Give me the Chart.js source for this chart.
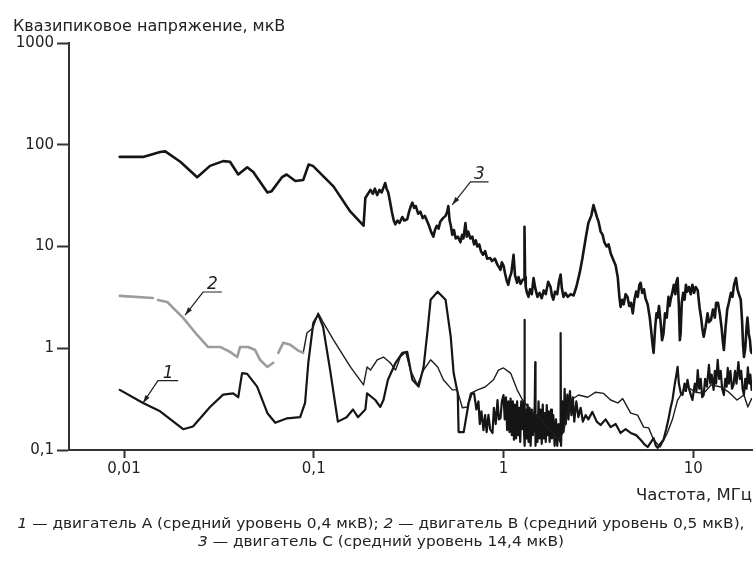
<!DOCTYPE html>
<html>
<head>
<meta charset="utf-8">
<script src="https://cdn.jsdelivr.net/npm/chart.js@4/dist/chart.umd.min.js"></script>
<style>
  html, body { margin: 0; padding: 0; background: #fff; }
  canvas { display: block; }
</style>
</head>
<body>
<canvas id="c" width="754" height="561"></canvas>
<script>
// [frequency, MHz ; quasi-peak voltage, µV]
// Engine A
const seriesA = [
  [0.0095, 0.39], [0.0126, 0.29], [0.0155, 0.24], [0.0205, 0.16], [0.0231, 0.17], [0.0284, 0.265], [0.0333, 0.35],
  [0.0376, 0.36], [0.040, 0.33], [0.0419, 0.57], [0.0446, 0.56], [0.0503, 0.42], [0.057, 0.23], [0.0627, 0.185],
  [0.0724, 0.205], [0.0848, 0.21], [0.090, 0.29], [0.0936, 0.72], [0.0994, 1.77], [0.1055, 2.15], [0.112, 1.62],
  [0.122, 0.61], [0.134, 0.19], [0.149, 0.21], [0.161, 0.25], [0.171, 0.21], [0.187, 0.25], [0.191, 0.36],
  [0.211, 0.31], [0.224, 0.265], [0.233, 0.31], [0.246, 0.49], [0.27, 0.72], [0.293, 0.9], [0.311, 0.92],
  [0.331, 0.49], [0.357, 0.42], [0.379, 0.65], [0.398, 1.5], [0.413, 3.0], [0.45, 3.6], [0.495, 3.0],
  [0.527, 1.3], [0.546, 0.57], [0.574, 0.36], [0.58, 0.15], [0.617, 0.15], [0.655, 0.29], [0.68, 0.36],
  [0.70, 0.36], [0.72, 0.25], [0.738, 0.3], [0.75, 0.18], [0.765, 0.24], [0.784, 0.157], [0.80, 0.22],
  [0.815, 0.15], [0.833, 0.221], [0.85, 0.16], [0.875, 0.147], [0.89, 0.26], [0.91, 0.18], [0.93, 0.31],
  [0.945, 0.2], [0.964, 0.205], [0.98, 0.3], [1.0, 0.347], [1.015, 0.2], [1.03, 0.33], [1.045, 0.157],
  [1.06, 0.3], [1.075, 0.15], [1.09, 0.32], [1.105, 0.14], [1.12, 0.3], [1.135, 0.126], [1.15, 0.28],
  [1.165, 0.13], [1.18, 0.3], [1.195, 0.14], [1.21, 0.26], [1.225, 0.12], [1.24, 0.3], [1.26, 0.16],
  [1.275, 0.3], [1.285, 0.14], [1.29, 1.9], [1.295, 0.11], [1.31, 0.25], [1.325, 0.13], [1.34, 0.28],
  [1.355, 0.12], [1.37, 0.26], [1.39, 0.11], [1.41, 0.25], [1.43, 0.14], [1.46, 0.27], [1.47, 0.73],
  [1.475, 0.11], [1.49, 0.22], [1.51, 0.12], [1.53, 0.3], [1.55, 0.13], [1.57, 0.25], [1.59, 0.115],
  [1.61, 0.28], [1.63, 0.13], [1.65, 0.23], [1.67, 0.12], [1.69, 0.276], [1.71, 0.14], [1.73, 0.24],
  [1.75, 0.12], [1.78, 0.25], [1.8, 0.13], [1.83, 0.22], [1.86, 0.11], [1.89, 0.2], [1.92, 0.11],
  [1.95, 0.18], [1.99, 0.12], [2.0, 1.41], [2.01, 0.11], [2.04, 0.3], [2.07, 0.15], [2.1, 0.4],
  [2.13, 0.18], [2.17, 0.35], [2.2, 0.2], [2.24, 0.38], [2.28, 0.22], [2.32, 0.33], [2.36, 0.19],
  [2.42, 0.3], [2.48, 0.21], [2.55, 0.26], [2.62, 0.19], [2.71, 0.22], [2.8, 0.2], [2.94, 0.237],
  [3.1, 0.19], [3.25, 0.176], [3.45, 0.2], [3.67, 0.168], [3.9, 0.18], [4.14, 0.147], [4.4, 0.16],
  [4.68, 0.147], [5.0, 0.14], [5.28, 0.126], [5.5, 0.115], [5.75, 0.107], [6.0, 0.12], [6.18, 0.131],
  [6.35, 0.11], [6.49, 0.105], [6.7, 0.115], [6.97, 0.126], [7.2, 0.16], [7.4, 0.2], [7.6, 0.26],
  [7.77, 0.31], [8.0, 0.45], [8.15, 0.55], [8.27, 0.655], [8.4, 0.45], [8.6, 0.36], [8.78, 0.347],
  [9.0, 0.45], [9.15, 0.38], [9.32, 0.49], [9.5, 0.4], [9.7, 0.35], [9.9, 0.31], [10.2, 0.45],
  [10.4, 0.38], [10.56, 0.61], [10.75, 0.4], [10.95, 0.5], [11.15, 0.33], [11.35, 0.347], [11.55, 0.5],
  [11.8, 0.42], [12.1, 0.686], [12.3, 0.45], [12.5, 0.55], [12.8, 0.39], [13.0, 0.6], [13.2, 0.45],
  [13.45, 0.77], [13.7, 0.5], [13.95, 0.6], [14.2, 0.4], [14.5, 0.347], [14.75, 0.5], [15.0, 0.42],
  [15.2, 0.64], [15.4, 0.45], [15.7, 0.6], [16.0, 0.4], [16.3, 0.436], [16.6, 0.6], [16.9, 0.45],
  [17.3, 0.73], [17.6, 0.5], [17.9, 0.6], [18.2, 0.4], [18.5, 0.347], [18.8, 0.5], [19.1, 0.4],
  [19.4, 0.65], [19.7, 0.45], [20.0, 0.55], [20.3, 0.39]
];

// Engine B: low-frequency part (grey, with breaks) and its continuation
const seriesB1 = [
  [0.0095, 3.27], [0.0142, 3.12], [0.0147, null], [0.0151, 2.98], [0.0169, 2.85], [0.0205, 1.99], [0.0243, 1.35],
  [0.0277, 1.03], [0.0321, 1.03], [0.0362, 0.92], [0.0395, 0.82], [0.0409, 1.03], [0.0451, 1.03], [0.0491, 0.96],
  [0.0521, 0.77], [0.0569, 0.655], [0.0612, 0.72], [0.0631, null], [0.065, 0.9], [0.069, 1.13], [0.0753, 1.08],
  [0.082, 0.96], [0.088, 0.9]
];
const seriesB2 = [
  [0.088, 0.9], [0.092, 1.41], [0.099, 1.58], [0.1055, 2.22], [0.112, 1.81], [0.127, 1.21], [0.156, 0.655],
  [0.183, 0.436], [0.191, 0.655], [0.199, 0.61], [0.216, 0.77], [0.233, 0.82], [0.253, 0.72], [0.27, 0.61],
  [0.286, 0.82], [0.305, 0.92], [0.323, 0.61], [0.352, 0.436], [0.379, 0.61], [0.413, 0.77], [0.45, 0.655],
  [0.482, 0.49], [0.537, 0.39], [0.57, 0.39], [0.607, 0.26], [0.645, 0.265], [0.67, 0.36], [0.73, 0.39],
  [0.80, 0.416], [0.886, 0.49], [0.94, 0.61], [1.0, 0.64], [1.09, 0.57], [1.18, 0.39], [1.26, 0.31],
  [1.39, 0.247], [1.57, 0.2], [1.77, 0.157], [1.95, 0.126], [2.07, 0.15], [2.26, 0.31], [2.49, 0.347],
  [2.78, 0.33], [3.06, 0.37], [3.37, 0.36], [3.67, 0.31], [4.0, 0.29], [4.25, 0.32], [4.68, 0.23],
  [5.09, 0.22], [5.48, 0.168], [5.82, 0.165], [6.18, 0.126], [6.7, 0.107], [7.3, 0.147], [7.77, 0.2],
  [8.27, 0.31], [8.78, 0.37], [9.32, 0.416], [10.3, 0.37], [11.35, 0.36], [12.4, 0.436], [14.0, 0.416],
  [15.4, 0.37], [17.0, 0.31], [18.5, 0.347], [19.4, 0.265], [20.3, 0.32]
];

// Engine C
const seriesC = [
  [0.0095, 76], [0.0126, 76], [0.0155, 85], [0.0165, 86], [0.0198, 68], [0.0243, 48], [0.0284, 62], [0.0333, 69],
  [0.0362, 68], [0.040, 51], [0.0446, 60], [0.048, 54], [0.057, 34], [0.060, 35], [0.068, 48], [0.072, 51],
  [0.080, 44], [0.088, 45], [0.094, 64], [0.099, 62], [0.127, 39], [0.156, 22], [0.183, 16], [0.187, 30],
  [0.199, 36], [0.205, 33], [0.21, 37], [0.216, 32], [0.222, 36], [0.228, 34], [0.238, 42], [0.242, 37],
  [0.247, 34], [0.252, 28], [0.258, 22], [0.264, 18], [0.269, 16.5], [0.276, 18], [0.283, 17], [0.293, 19.5],
  [0.3, 18], [0.311, 18.5], [0.318, 22], [0.325, 25], [0.331, 27], [0.338, 24], [0.345, 25], [0.355, 21],
  [0.365, 22], [0.375, 19], [0.385, 20], [0.397, 17.5], [0.405, 16], [0.415, 14], [0.427, 12.5], [0.435, 14.5],
  [0.445, 16], [0.455, 15], [0.464, 17.5], [0.48, 19], [0.495, 20], [0.505, 22], [0.512, 25], [0.52, 18],
  [0.528, 16], [0.537, 13], [0.548, 14.5], [0.56, 12], [0.575, 12.5], [0.593, 11], [0.605, 13], [0.615, 12],
  [0.63, 17], [0.64, 12.5], [0.652, 14], [0.669, 12], [0.685, 12.5], [0.7, 10.5], [0.715, 11.5], [0.727, 10],
  [0.745, 10.5], [0.76, 9], [0.78, 8.3], [0.8, 9], [0.82, 7.6], [0.85, 7.7], [0.87, 7.2], [0.9, 7.6],
  [0.93, 6.6], [0.95, 6.2], [0.964, 5.9], [0.98, 7.0], [1.0, 6.5], [1.02, 5.4], [1.04, 4.6], [1.06, 4.2],
  [1.08, 5.0], [1.1, 5.5], [1.13, 8.3], [1.15, 5.2], [1.18, 4.4], [1.2, 5.0], [1.23, 4.3], [1.26, 4.7],
  [1.285, 4.8], [1.29, 15.6], [1.30, 5.0], [1.31, 4.0], [1.33, 3.5], [1.355, 3.2], [1.38, 3.8], [1.41, 3.4],
  [1.44, 4.9], [1.47, 3.9], [1.51, 3.2], [1.55, 3.5], [1.59, 3.1], [1.63, 3.7], [1.67, 3.4], [1.72, 4.5],
  [1.77, 4.0], [1.8, 3.3], [1.83, 3.0], [1.87, 3.6], [1.92, 3.4], [1.96, 4.5], [2.0, 5.3], [2.03, 3.9],
  [2.07, 3.2], [2.12, 3.5], [2.18, 3.2], [2.26, 3.4], [2.34, 3.3], [2.42, 4.0], [2.52, 5.5], [2.6, 7.5],
  [2.71, 12], [2.8, 17], [2.9, 20], [2.98, 25.5], [3.05, 22], [3.12, 19], [3.17, 17.5], [3.25, 14],
  [3.33, 13], [3.4, 11], [3.5, 10], [3.58, 10.5], [3.67, 8.6], [3.78, 7.5], [3.9, 6.5], [4.0, 5.0],
  [4.08, 3.2], [4.14, 2.55], [4.22, 3.0], [4.3, 2.7], [4.4, 3.4], [4.5, 3.2], [4.6, 2.6], [4.7, 2.8],
  [4.8, 2.2], [4.9, 3.0], [5.0, 3.6], [5.1, 3.2], [5.2, 4.2], [5.28, 4.4], [5.38, 3.5], [5.5, 3.8],
  [5.6, 3.1], [5.75, 2.7], [5.9, 2.0], [6.0, 1.5], [6.1, 1.1], [6.18, 0.9], [6.3, 1.6], [6.4, 2.2],
  [6.49, 2.0], [6.6, 2.6], [6.75, 1.7], [6.85, 1.2], [6.97, 1.4], [7.1, 2.2], [7.25, 2.0], [7.4, 3.2],
  [7.5, 2.6], [7.6, 3.0], [7.75, 3.5], [7.9, 4.2], [8.05, 3.4], [8.15, 4.5], [8.27, 4.9], [8.4, 2.6],
  [8.5, 1.2], [8.58, 1.4], [8.7, 2.8], [8.85, 3.5], [9.0, 3.0], [9.15, 4.2], [9.3, 3.6], [9.5, 4.0],
  [9.7, 3.4], [9.9, 4.2], [10.1, 3.5], [10.3, 4.0], [10.56, 3.7], [10.8, 2.5], [11.0, 2.0], [11.2, 1.5],
  [11.35, 1.3], [11.6, 1.6], [11.9, 2.2], [12.1, 1.8], [12.4, 1.9], [12.7, 2.4], [13.0, 2.0], [13.2, 2.8],
  [13.5, 2.8], [13.8, 2.2], [14.1, 1.6], [14.3, 1.2], [14.5, 0.96], [14.8, 1.6], [15.1, 2.4], [15.4, 2.8],
  [15.8, 3.5], [16.1, 3.2], [16.4, 4.2], [16.8, 4.9], [17.1, 3.8], [17.4, 3.4], [17.8, 3.0], [18.1, 1.8],
  [18.3, 1.1], [18.5, 0.82], [18.8, 1.0], [19.1, 1.6], [19.3, 2.0], [19.6, 1.4], [19.9, 1.2], [20.1, 0.95],
  [20.3, 0.9]
];

// Axis ticks
const xTickValues = [0.01, 0.1, 1, 10];
const xTickLabels = ['0,01', '0,1', '1', '10'];
const yTickValues = [0.1, 1, 10, 100, 1000];
const yTickLabels = ['0,1', '1', '10', '100', '1000'];

const yTitle = 'Квазипиковое напряжение, мкВ';
const xTitle = 'Частота, МГц';
const captionLines = [
  [['1', true], [' — двигатель А (средний уровень 0,4 мкВ); ', false], ['2', true], [' — двигатель В (средний уровень 0,5 мкВ),', false]],
  [['3', true], [' — двигатель С (средний уровень 14,4 мкВ)', false]]
];

// Curve number call-outs, anchored in data units
const callouts = [
  { text: '1', tip: [0.0126, 0.29], elbow: [0.0151, 0.48], end: 0.0193 },
  { text: '2', tip: [0.0210, 2.12], elbow: [0.0261, 3.57], end: 0.0328 },
  { text: '3', tip: [0.537, 25.7], elbow: [0.67, 43.2], end: 0.834 }
];

const pts = arr => arr.map(p => ({ x: p[0], y: p[1] }));

const FONT = 'DejaVu Sans';
const INK = '#222';

const decor = {
  id: 'decor',
  afterDraw(chart) {
    const ctx = chart.ctx;
    const xs = chart.scales.x, ys = chart.scales.y;
    ctx.save();
    ctx.fillStyle = INK;
    ctx.textBaseline = 'alphabetic';

    // axis titles
    ctx.font = '16px "' + FONT + '"';
    ctx.textAlign = 'left';
    ctx.fillText(yTitle, 13, 31);
    ctx.font = '16.5px "' + FONT + '"';
    ctx.textAlign = 'right';
    ctx.fillText(xTitle, 752, 500);

    // call-outs
    ctx.strokeStyle = INK;
    ctx.lineWidth = 1.2;
    callouts.forEach(c => {
      const tx = xs.getPixelForValue(c.tip[0]), ty = ys.getPixelForValue(c.tip[1]);
      const ex = xs.getPixelForValue(c.elbow[0]), ey = ys.getPixelForValue(c.elbow[1]);
      const rx = xs.getPixelForValue(c.end);
      ctx.beginPath();
      ctx.moveTo(rx, ey);
      ctx.lineTo(ex, ey);
      ctx.lineTo(tx, ty);
      ctx.stroke();
      const ang = Math.atan2(ty - ey, tx - ex);
      const L = 8, W = 2.5;
      ctx.beginPath();
      ctx.moveTo(tx, ty);
      ctx.lineTo(tx - L * Math.cos(ang) + W * Math.sin(ang), ty - L * Math.sin(ang) - W * Math.cos(ang));
      ctx.lineTo(tx - L * Math.cos(ang) - W * Math.sin(ang), ty - L * Math.sin(ang) + W * Math.cos(ang));
      ctx.closePath();
      ctx.fill();
      ctx.font = 'italic 17px "' + FONT + '"';
      ctx.textAlign = 'center';
      ctx.fillText(c.text, (ex + rx) / 2, ey - 3);
    });

    // caption, stretched horizontally to the figure width
    const fontFor = it => (it ? 'italic ' : '') + '13.5px "' + FONT + '"';
    const lineWidth = line => line.reduce((w, [t, it]) => { ctx.font = fontFor(it); return w + ctx.measureText(t).width; }, 0);
    const sx = 727 / lineWidth(captionLines[0]);
    const baselines = [528, 546];
    ctx.textAlign = 'left';
    captionLines.forEach((line, li) => {
      const w = lineWidth(line) * sx;
      ctx.save();
      ctx.translate(381 - w / 2, baselines[li]);
      ctx.scale(sx, 1);
      let x = 0;
      line.forEach(([t, it]) => {
        ctx.font = fontFor(it);
        ctx.fillText(t, x, 0);
        x += ctx.measureText(t).width;
      });
      ctx.restore();
    });
    ctx.restore();
  }
};

const lineDs = (data, color, width) => ({
  data: data, showLine: true, borderColor: color, backgroundColor: color,
  borderWidth: width, pointRadius: 0, tension: 0, spanGaps: false,
  borderJoinStyle: 'round', borderCapStyle: 'round'
});

new Chart(document.getElementById('c'), {
  type: 'scatter',
  data: {
    datasets: [
      lineDs(pts(seriesB1), '#9c9c9c', 2.6),
      lineDs(pts(seriesB2), '#1e1e1e', 1.4),
      lineDs(pts(seriesA), '#151515', 2.2),
      lineDs(pts(seriesC), '#151515', 2.6)
    ]
  },
  options: {
    responsive: false,
    animation: false,
    layout: { padding: { top: 43, right: 2, left: 0, bottom: 0 } },
    plugins: { legend: { display: false }, tooltip: { enabled: false } },
    scales: {
      x: {
        type: 'logarithmic', min: 0.00513, max: 20.4,
        afterBuildTicks: s => { s.ticks = xTickValues.map(v => ({ value: v })); },
        afterFit: s => { s.height = 111; },
        ticks: {
          callback: (v, i) => xTickLabels[i],
          font: { family: FONT, size: 15 }, color: INK,
          padding: 2, maxRotation: 0, autoSkip: false
        },
        grid: { display: true, drawOnChartArea: false, drawTicks: true, tickLength: 8, tickColor: '#333', tickWidth: 2 },
        border: { display: true, color: '#333', width: 2 }
      },
      y: {
        type: 'logarithmic', min: 0.1, max: 1000,
        afterBuildTicks: s => { s.ticks = yTickValues.map(v => ({ value: v })); },
        afterFit: s => { s.width = 69; },
        ticks: {
          callback: (v, i) => yTickLabels[i],
          font: { family: FONT, size: 15 }, color: INK,
          padding: 3, autoSkip: false
        },
        grid: { display: true, drawOnChartArea: false, drawTicks: true, tickLength: 12, tickColor: '#333', tickWidth: 2 },
        border: { display: true, color: '#333', width: 2 }
      }
    }
  },
  plugins: [decor]
});
</script>
</body>
</html>
